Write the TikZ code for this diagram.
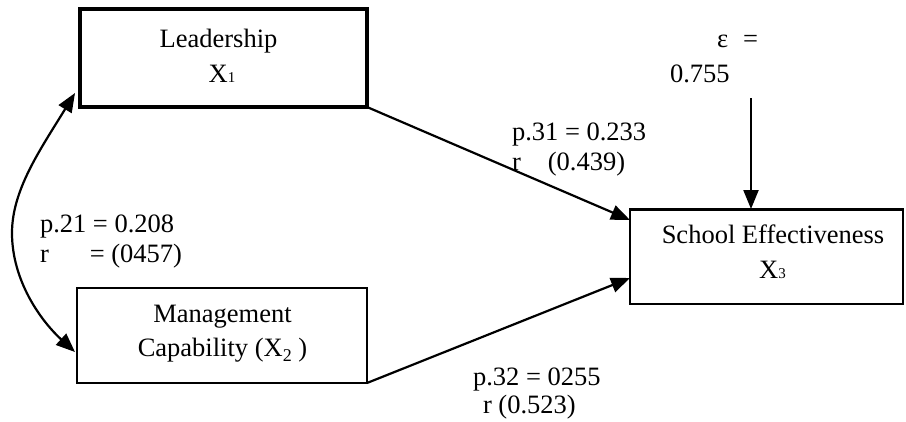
\documentclass[tikz,border=0pt]{standalone}
\usepackage{fontspec}
\setmainfont{Liberation Serif}
\usetikzlibrary{arrows.meta}
\begin{document}
\begin{tikzpicture}[x=1pt,y=-1pt,
  every node/.style={font=\fontsize{26.5}{32}\selectfont, inner sep=0pt, outer sep=0pt},
  varbox/.style={draw, rectangle, anchor=north west},
  lbl/.style={anchor=base},
  lblw/.style={anchor=base west},
  conn/.style={line width=2.2pt, -{Triangle[length=19pt,width=15pt]}},
  dconn/.style={line width=2.2pt, {Triangle[length=19pt,width=15pt]}-{Triangle[length=19pt,width=15pt]}}
]
\useasboundingbox (0,0) rectangle (906,421);
% boxes
\node[varbox, line width=3.4pt, minimum width=287pt, minimum height=98pt] (L) at (80,9) {};
\node[varbox, line width=1.8pt, minimum width=290pt, minimum height=95pt] (M) at (77,288) {};
\node[varbox, line width=2pt, minimum width=273pt, minimum height=95pt] (S) at (630,209) {};
\draw[line width=3pt] (S.north west) -- (S.north east);
% box texts
\node[lbl] (Lt1) at (218.5,47) {Leadership};
\node[lbl] (Lt2) at (222,82) {X{\fontsize{15}{15}\selectfont 1}};
\node[lbl] (Mt1) at (222.5,322) {Management};
\node[lbl] (Mt2) at (222.5,356) {Capability (X\raisebox{-5pt}{\fontsize{18}{18}\selectfont 2} )};
\node[lbl] (St1) at (773,243) {School Effectiveness};
\node[lbl] (St2) at (772.5,278) {X{\fontsize{15}{15}\selectfont 3}};
% error term
\node[lblw] (eps1) at (717,47) {ε\hspace{15pt}=};
\node[lblw] (eps2) at (670,82) {0.755};
\coordinate (e) at (751,98);
% labels
\node[lblw] (p31) at (512,140) {p.31 = 0.233};
\node[lblw] (r31) at (512,170) {r\hspace{27pt}(0.439)};
\node[lblw] (p32) at (473,385) {p.32 = 0255};
\node[lblw] (r32) at (483,413) {r (0.523)};
\node[lblw] (p21) at (40,232) {p.21 = 0.208};
\node[lblw] (r21) at (40,262) {r\hspace{41pt}= (0457)};
% connectors
\draw[conn] (L.south east) -- ([yshift=-11pt]S.north west);
\draw[conn] (M.south east) -- ([yshift=26pt]S.south west);
\draw[conn] (e) -- (e |- S.north);
\draw[dconn] ([xshift=-5pt,yshift=14pt]L.south west) .. controls (40,150) and (12,190) .. (12,233)
  .. controls (12,280) and (40,320) .. ([xshift=-2pt,yshift=31pt]M.south west);
\end{tikzpicture}
\end{document}
